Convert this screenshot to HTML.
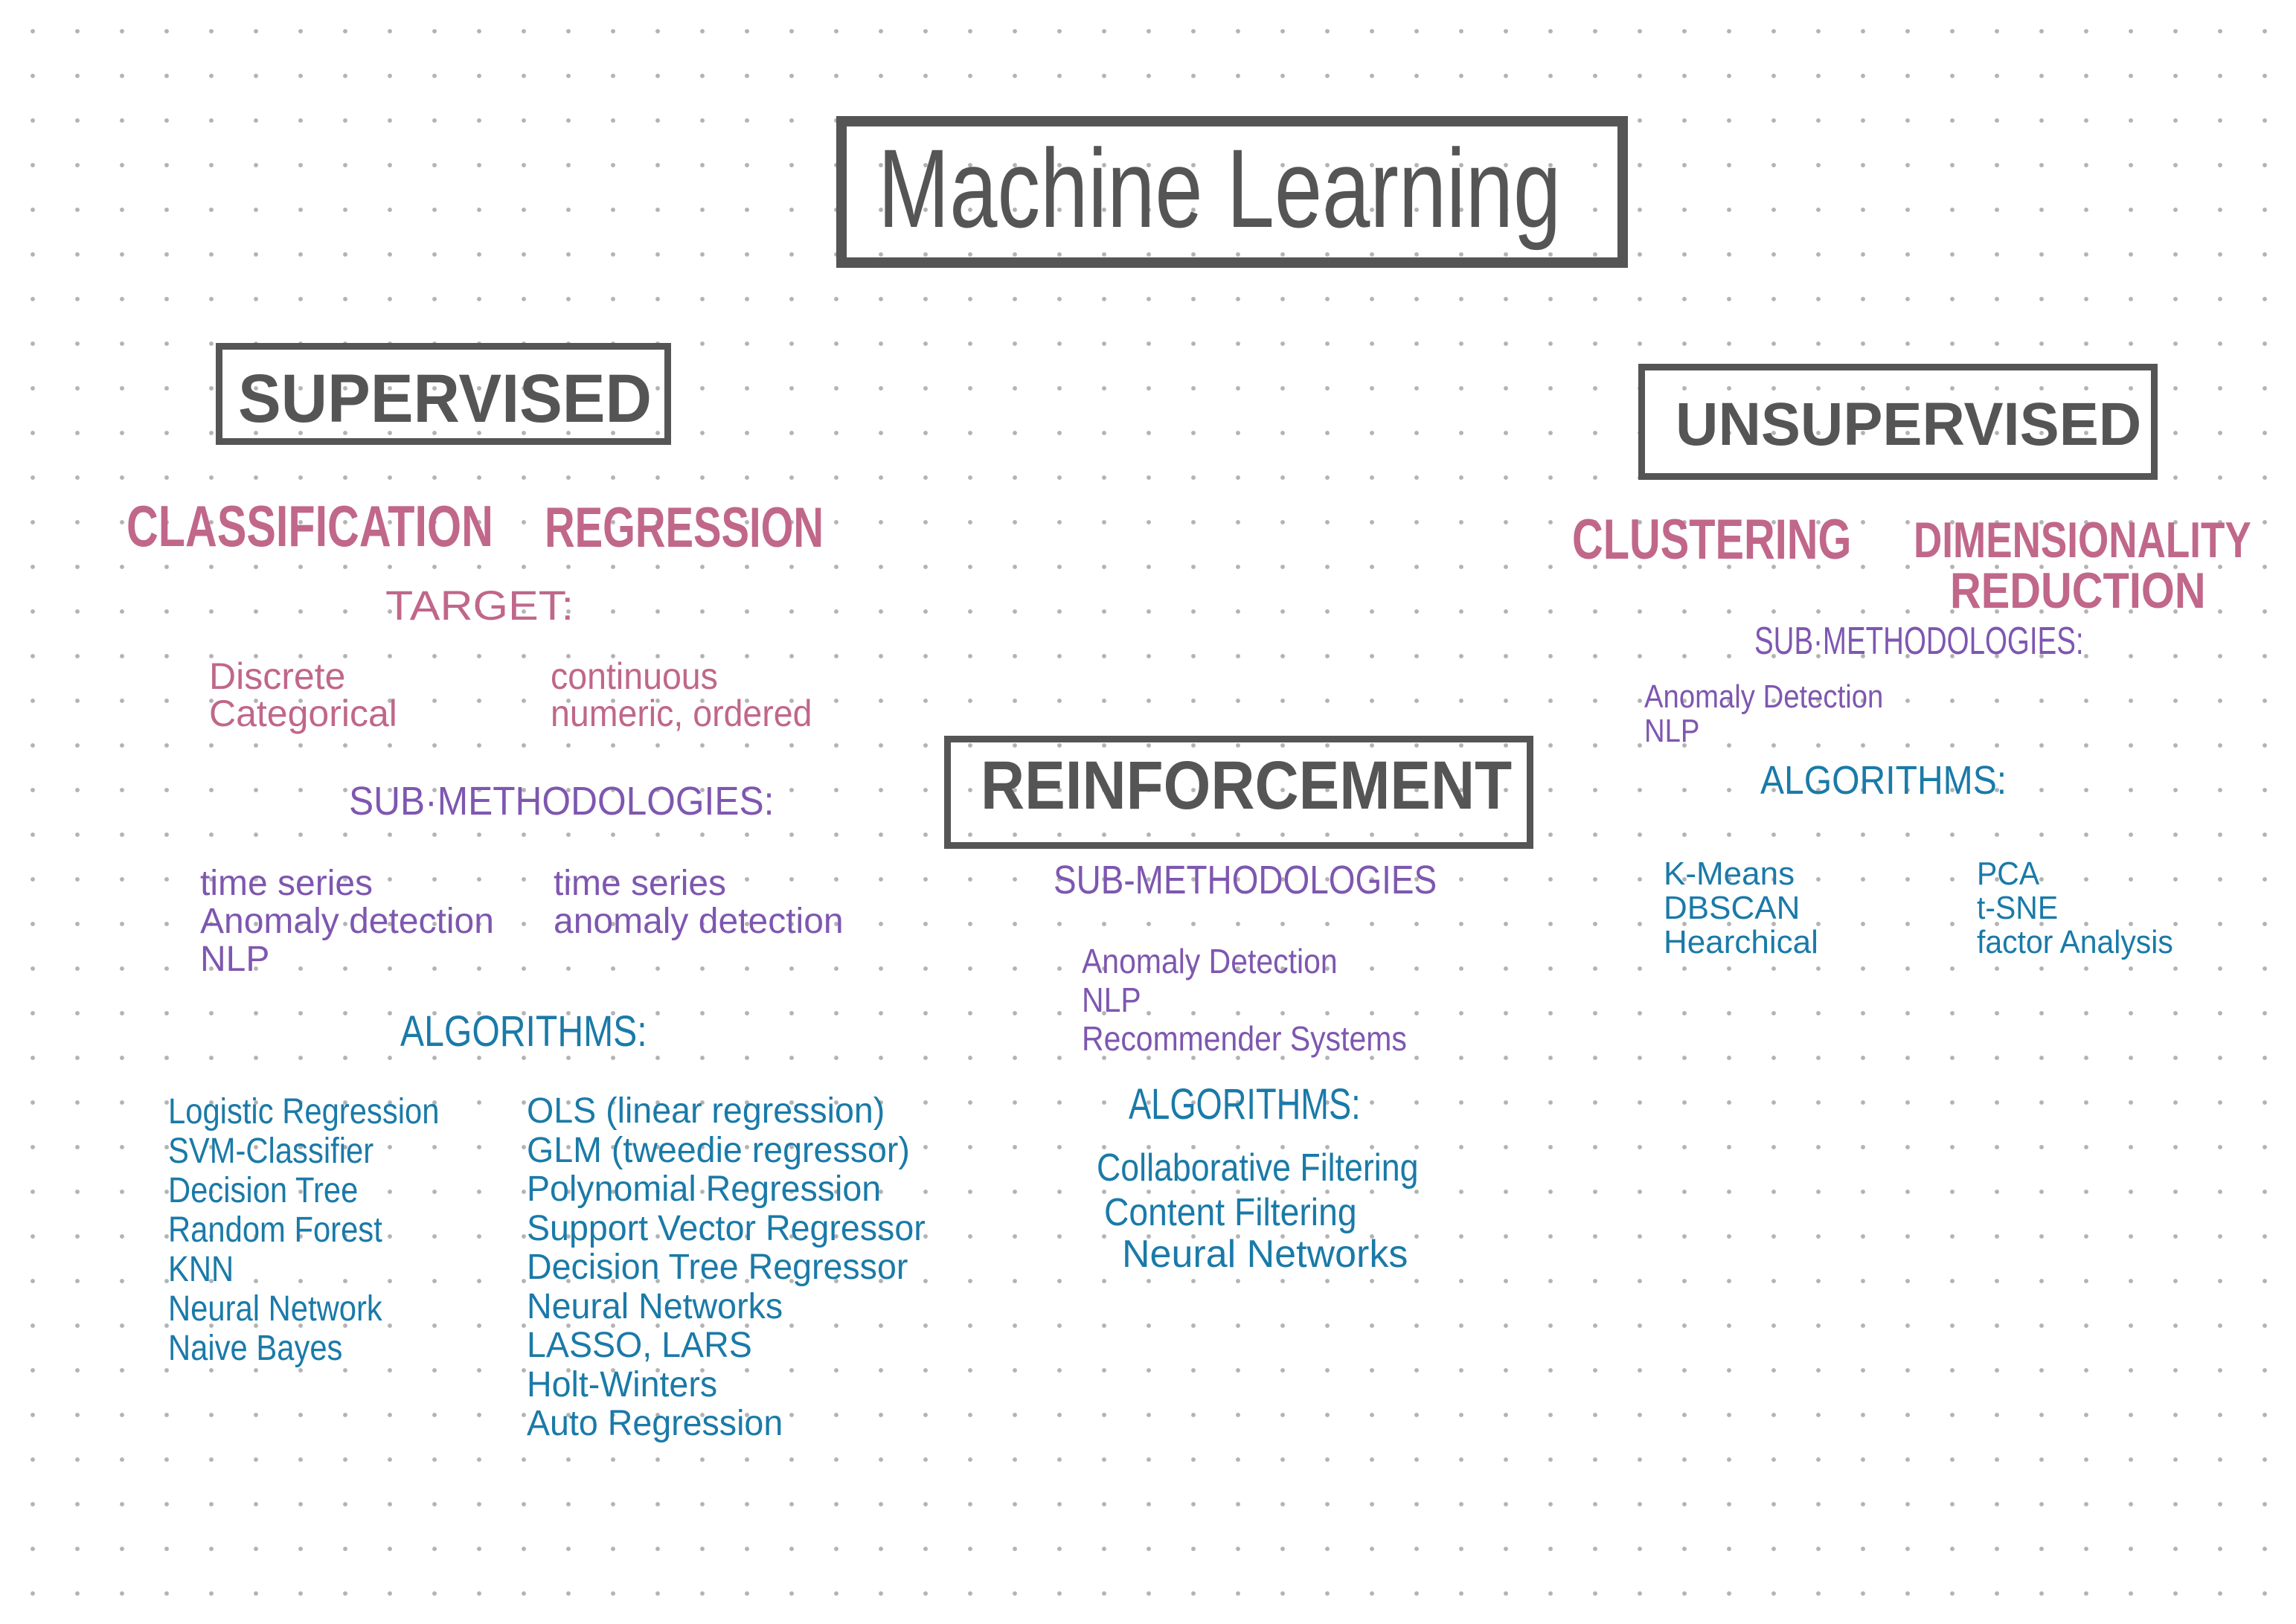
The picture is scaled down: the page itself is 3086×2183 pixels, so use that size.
<!DOCTYPE html>
<html><head><meta charset="utf-8"><style>
html,body{margin:0;padding:0}
body{width:3086px;height:2183px;position:relative;overflow:hidden;background-color:#fff;
background-image:radial-gradient(circle,#b3b3b3 2.6px,transparent 3.2px);background-size:60px 60px;background-position:14px 12px;
font-family:"Liberation Sans",sans-serif}
.b{position:absolute;border:9px solid #555;box-sizing:border-box;background:transparent}
.t{position:absolute;white-space:nowrap;line-height:1;transform-origin:0 0}
.pk{color:#c0678a}.pu{color:#7e57b0}.bl{color:#1a7aa8}.gr{color:#555}
.h{font-weight:bold}
</style></head><body>
<div class="b" style="left:1124px;top:156px;width:1064px;height:204px;border-width:14px"></div>
<div class="t gr" style="left:1180px;top:178px;font-size:150px;transform:scaleX(0.77)">Machine Learning</div>

<div class="b" style="left:290px;top:461px;width:612px;height:137px"></div>
<div class="t gr h" style="left:320px;top:490px;font-size:92px;transform:scaleX(0.94)">SUPERVISED</div>

<div class="b" style="left:2202px;top:489px;width:698px;height:156px"></div>
<div class="t gr h" style="left:2252px;top:530px;font-size:82px;transform:scaleX(0.97)">UNSUPERVISED</div>

<div class="b" style="left:1269px;top:989px;width:792px;height:152px"></div>
<div class="t gr h" style="left:1318px;top:1010px;font-size:92px;transform:scaleX(0.89)">REINFORCEMENT</div>

<div class="t pk h" style="left:170px;top:668px;font-size:78px;transform:scaleX(0.76)">CLASSIFICATION</div>
<div class="t pk h" style="left:732px;top:672px;font-size:76px;transform:scaleX(0.74)">REGRESSION</div>
<div class="t pk" style="left:518px;top:786px;font-size:56px;transform:scaleX(1.09)">TARGET:</div>
<div class="t pk" style="left:281px;top:884px;font-size:50px;line-height:50px">Discrete<br>Categorical</div>
<div class="t pk" style="left:740px;top:884px;font-size:50px;line-height:50px;transform:scaleX(0.93)">continuous<br>numeric, ordered</div>

<div class="t pu" style="left:469px;top:1050px;font-size:54px;transform:scaleX(0.92)">SUB·METHODOLOGIES:</div>
<div class="t pu" style="left:269px;top:1162px;font-size:48px;line-height:51px">time series<br>Anomaly detection<br>NLP</div>
<div class="t pu" style="left:744px;top:1162px;font-size:48px;line-height:51px">time series<br>anomaly detection</div>

<div class="t bl" style="left:538px;top:1358px;font-size:58px;transform:scaleX(0.83)">ALGORITHMS:</div>
<div class="t bl" style="left:226px;top:1468px;font-size:48px;line-height:53px;transform:scaleX(0.87)">Logistic Regression<br>SVM-Classifier<br>Decision Tree<br>Random Forest<br>KNN<br>Neural Network<br>Naive Bayes</div>
<div class="t bl" style="left:708px;top:1468px;font-size:48px;line-height:52.5px;transform:scaleX(0.97)">OLS (linear regression)<br>GLM (tweedie regressor)<br>Polynomial Regression<br>Support Vector Regressor<br>Decision Tree Regressor<br>Neural Networks<br>LASSO, LARS<br>Holt-Winters<br>Auto Regression</div>

<div class="t pk h" style="left:2113px;top:688px;font-size:76px;transform:scaleX(0.76)">CLUSTERING</div>
<div class="t pk h" style="left:2572px;top:692px;font-size:68px;transform:scaleX(0.78)">DIMENSIONALITY</div>
<div class="t pk h" style="left:2621px;top:760px;font-size:68px;transform:scaleX(0.85)">REDUCTION</div>
<div class="t pu" style="left:2358px;top:836px;font-size:52px;transform:scaleX(0.74)">SUB·METHODOLOGIES:</div>
<div class="t pu" style="left:2210px;top:914px;font-size:44px;line-height:46px;transform:scaleX(0.87)">Anomaly Detection<br>NLP</div>
<div class="t bl" style="left:2366px;top:1022px;font-size:54px;transform:scaleX(0.89)">ALGORITHMS:</div>
<div class="t bl" style="left:2236px;top:1152px;font-size:44px;line-height:46px">K-Means<br>DBSCAN<br>Hearchical</div>
<div class="t bl" style="left:2657px;top:1152px;font-size:44px;line-height:46px;transform:scaleX(0.93)">PCA<br>t-SNE<br>factor Analysis</div>

<div class="t pu" style="left:1416px;top:1156px;font-size:54px;transform:scaleX(0.85)">SUB-METHODOLOGIES</div>
<div class="t pu" style="left:1454px;top:1266px;font-size:46px;line-height:52px;transform:scaleX(0.89)">Anomaly Detection<br>NLP<br>Recommender Systems</div>
<div class="t bl" style="left:1517px;top:1456px;font-size:58px;transform:scaleX(0.78)">ALGORITHMS:</div>
<div class="t bl" style="left:1474px;top:1544px;font-size:52px;transform:scaleX(0.86)">Collaborative Filtering</div>
<div class="t bl" style="left:1484px;top:1604px;font-size:52px;transform:scaleX(0.89)">Content Filtering</div>
<div class="t bl" style="left:1508px;top:1660px;font-size:52px">Neural Networks</div>
</body></html>
